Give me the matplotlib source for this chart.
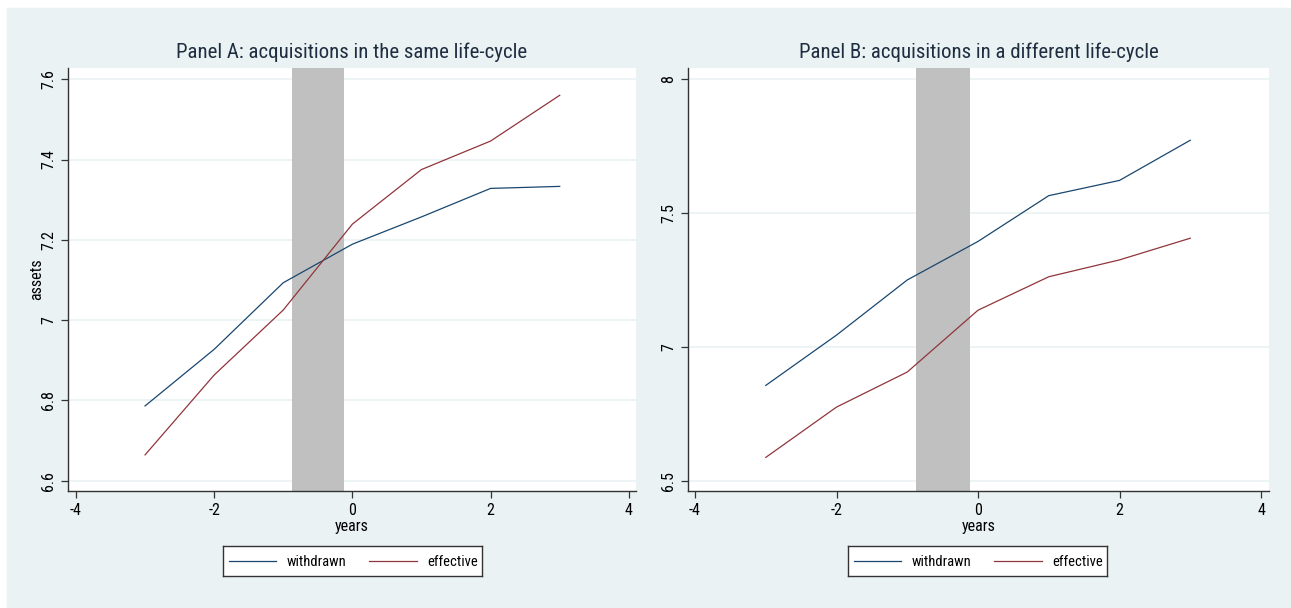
import matplotlib.pyplot as plt
from matplotlib.patches import Rectangle
from matplotlib import font_manager

# event-time grid and mean log assets around the announcement
years = [-3, -2, -1, 0, 1, 2, 3]

# Panel A: acquisitions in the same life-cycle
a_withdrawn = [6.786, 6.927, 7.093, 7.189, 7.257, 7.328, 7.333]
a_effective = [6.664, 6.863, 7.025, 7.239, 7.375, 7.446, 7.560]

# Panel B: acquisitions in a different life-cycle
b_withdrawn = [6.856, 7.044, 7.250, 7.394, 7.565, 7.622, 7.772]
b_effective = [6.587, 6.775, 6.906, 7.137, 7.262, 7.325, 7.406]

xticks = [-4, -2, 0, 2, 4]
a_yticks = [6.6, 6.8, 7.0, 7.2, 7.4, 7.6]
a_ylabels = ['6.6', '6.8', '7', '7.2', '7.4', '7.6']
b_yticks = [6.5, 7.0, 7.5, 8.0]
b_ylabels = ['6.5', '7', '7.5', '8']
band = (-0.87, -0.12)

# narrow sans face if one is around, otherwise a smaller regular one
fonts = font_manager.fontManager.ttflist
names = {f.name for f in fonts}
fam, title_fs, fs, leg_fs = 'Liberation Sans', 13.5, 10.5, 9.5
for cand in ['Liberation Sans Narrow', 'Arial Narrow', 'Roboto Condensed',
             'Open Sans Condensed', 'Noto Sans Display Condensed']:
    if cand in names:
        fam, title_fs, fs, leg_fs = cand, 15, 11.5, 10.5
        break
else:
    if any(f.name == 'DejaVu Sans' and f.stretch == 'condensed' for f in fonts):
        fam, title_fs, fs, leg_fs = 'DejaVu Sans', 14, 11, 10
        plt.rcParams['font.stretch'] = 'condensed'
plt.rcParams['font.family'] = [fam, 'DejaVu Sans']

BG = '#eaf2f3'
NAVY = '#1a476f'
MAROON = '#90353b'
INK = '#1e2d40'

W, H = 1291, 608
fig = plt.figure(figsize=(W / 100, H / 100), dpi=100)
fig.patches.append(Rectangle((7 / W, 0), 1 - 7 / W, 1 - 8 / H,
                             transform=fig.transFigure, color=BG, zorder=-10))


def px_axes(l, t, r, b):
    return fig.add_axes([l / W, 1 - b / H, (r - l) / W, (b - t) / H])


def panel(box, title, wd, ef, yticks, ylabels, ylim, xlim, legend_box, ylab=None):
    ax = px_axes(*box)
    ax.set_facecolor('white')
    ax.axvspan(band[0], band[1], color='#c0c0c0', lw=0, zorder=1)
    for y in yticks:
        ax.axhline(y, color=BG, lw=1.2, zorder=0.5)
    ax.plot(years, wd, color=NAVY, lw=0.9, zorder=3)
    ax.plot(years, ef, color=MAROON, lw=0.9, zorder=3)
    ax.set_xlim(*xlim)
    ax.set_ylim(*ylim)
    ax.set_xticks(xticks)
    ax.set_xticklabels([str(v) for v in xticks], fontsize=fs, color='black')
    ax.set_yticks(yticks)
    ax.set_yticklabels(ylabels, fontsize=fs, rotation=90, va='center', color='black')
    ax.tick_params(length=5, width=0.9, color='#333333', pad=3.5)
    for s in ['top', 'right']:
        ax.spines[s].set_visible(False)
    for s in ['left', 'bottom']:
        ax.spines[s].set_color('#333333')
        ax.spines[s].set_linewidth(1.0)
    ax.set_xlabel('years', fontsize=fs, labelpad=1)
    if ylab:
        ax.set_ylabel(ylab, fontsize=fs)
        ax.yaxis.set_label_coords(-0.042, 0.5)
    ax.set_title(title, fontsize=title_fs, color=INK, pad=7)

    # legend panel below the axis
    lg = px_axes(*legend_box)
    lg.set_xlim(0, 1)
    lg.set_ylim(0, 1)
    lg.set_xticks([])
    lg.set_yticks([])
    lg.set_facecolor('white')
    for s in lg.spines.values():
        s.set_color('#333333')
        s.set_linewidth(1.0)
    lg.plot([0.023, 0.205], [0.5, 0.5], color=NAVY, lw=0.9)
    lg.text(0.246, 0.47, 'withdrawn', fontsize=leg_fs, va='center')
    lg.plot([0.564, 0.749], [0.5, 0.5], color=MAROON, lw=0.9)
    lg.text(0.788, 0.47, 'effective', fontsize=leg_fs, va='center')
    return ax


panel((68, 68, 636, 491), 'Panel A: acquisitions in the same life-cycle',
      a_withdrawn, a_effective, a_yticks, a_ylabels,
      (6.574, 7.628), (-4.115, 4.104), (223, 546, 482, 576), ylab='assets')
panel((688, 68, 1269, 491), 'Panel B: acquisitions in a different life-cycle',
      b_withdrawn, b_effective, b_yticks, b_ylabels,
      (6.4615, 8.042), (-4.099, 4.113), (848, 546, 1107, 576))

fig.savefig('out.png', dpi=100)
